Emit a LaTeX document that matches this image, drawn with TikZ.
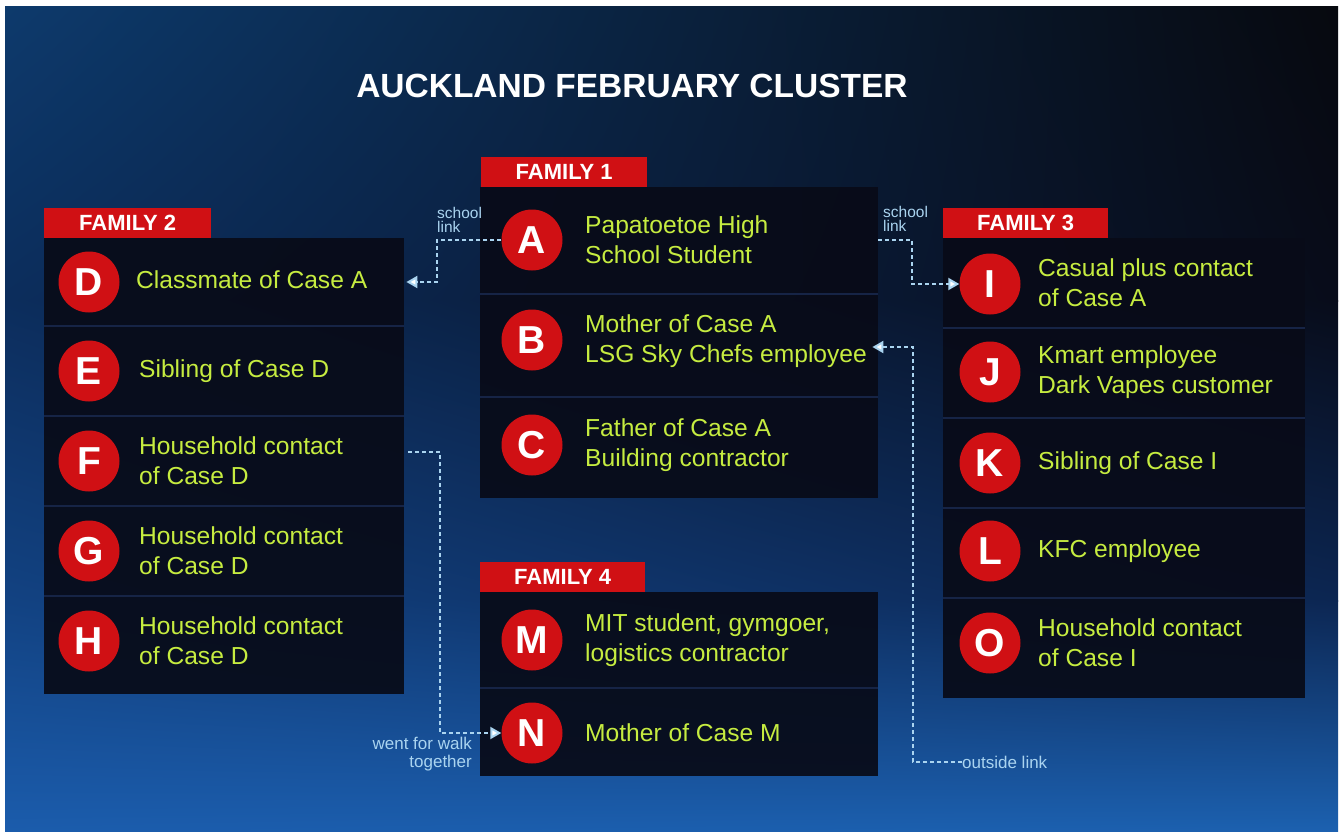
\documentclass[tikz,border=0pt]{standalone}
\usepackage{fontspec}
\setmainfont{Liberation Sans}
\usetikzlibrary{arrows.meta,calc,shadings}
\definecolor{lime}{RGB}{198,236,64}
\definecolor{cred}{RGB}{208,16,20}
\definecolor{panelc}{RGB}{8,11,24}
\definecolor{sepc}{RGB}{22,36,70}
\definecolor{linkc}{RGB}{170,212,240}
\definecolor{bgA}{RGB}{13,58,108}
\definecolor{bgB}{RGB}{7,9,15}
\definecolor{bgC}{RGB}{12,45,92}
\definecolor{bgD}{RGB}{8,12,26}
\definecolor{bgE}{RGB}{18,66,130}
\definecolor{bgF}{RGB}{12,38,82}
\definecolor{bgG}{RGB}{27,92,172}
\definecolor{bgH}{RGB}{28,97,176}
\begin{document}
\begin{tikzpicture}[x=1pt,y=-1pt,
  panel/.style={rectangle,fill=panelc,fill opacity=0.93,draw=none,inner sep=0pt,anchor=north west},
  sepline/.style={draw=sepc,line width=2pt},
  famlabel/.style={rectangle,fill=cred,text=white,inner sep=0pt,anchor=north west,
     minimum height=30pt,font=\bfseries\fontsize{22}{22}\selectfont},
  circ/.style={circle,fill=cred,minimum size=61pt,inner sep=0pt,text=white,
     font=\bfseries\fontsize{39}{39}\selectfont},
  txt/.style={text=lime,anchor=west,align=left,inner sep=0pt,
     font=\fontsize{24.6}{30}\selectfont},
  small/.style={text=linkc,inner sep=0pt,font=\fontsize{17}{18}\selectfont},
  smaller/.style={text=linkc,inner sep=0pt,font=\fontsize{15.5}{14}\selectfont},
  link/.style={draw=linkc,line width=2pt,dash pattern=on 4pt off 3pt},
  tip/.style={-{Triangle[length=11pt,width=12pt,fill=white]}},
]
\useasboundingbox (0,0) rectangle (1344,832);
\fill[white] (0,0) rectangle (1344,832);
% background gradient
\shade[upper left=bgA,upper right=bgB,lower left=bgC,lower right=bgD] (5,7) rectangle (1338,301);
\shade[upper left=bgC,upper right=bgD,lower left=bgE,lower right=bgF] (5,300) rectangle (1338,601);
\shade[upper left=bgE,upper right=bgF,lower left=bgG,lower right=bgH] (5,600) rectangle (1338,832);

% title
\node[text=white,font=\bfseries\fontsize{33.5}{33}\selectfont,inner sep=0pt] (title) at (632,86) {AUCKLAND FEBRUARY CLUSTER};

% panels
\node[panel,minimum width=398pt,minimum height=311pt] (p1) at (480,187) {};
\node[panel,minimum width=360pt,minimum height=456pt] (p2) at (44,238) {};
\node[panel,minimum width=362pt,minimum height=460pt] (p3) at (943,238) {};
\node[panel,minimum width=398pt,minimum height=184pt] (p4) at (480,592) {};

% row separators
\foreach \d in {107,210} \draw[sepline] ($(p1.north west)+(0,\d)$) -- ($(p1.north east)+(0,\d)$);
\foreach \d in {88,178,268,358} \draw[sepline] ($(p2.north west)+(0,\d)$) -- ($(p2.north east)+(0,\d)$);
\foreach \d in {90,180,270,360} \draw[sepline] ($(p3.north west)+(0,\d)$) -- ($(p3.north east)+(0,\d)$);
\draw[sepline] ($(p4.north west)+(0,96)$) -- ($(p4.north east)+(0,96)$);

% family labels
\node[famlabel,minimum width=166pt] (f1) at (481,157) {FAMILY 1};
\node[famlabel,minimum width=167pt] (f2) at (44,208) {FAMILY 2};
\node[famlabel,minimum width=165pt] (f3) at (943,208) {FAMILY 3};
\node[famlabel,minimum width=165pt] (f4) at (480,562) {FAMILY 4};

% family 1
\node[circ] (A) at (532,240) {A};
\node[circ] (B) at (532,340) {B};
\node[circ] (C) at (532,445) {C};
\node[txt] (tA) at (585,240) {Papatoetoe High\\School Student};
\node[txt] (tB) at (585,341) {Mother of Case A\\LSG Sky Chefs employee};
\node[txt] (tC) at (585,445) {Father of Case A\\Building contractor};

% family 2
\node[circ] (D) at (89,282) {D};
\node[circ] (E) at (89,371) {E};
\node[circ] (F) at (89,461) {F};
\node[circ] (G) at (89,551) {G};
\node[circ] (H) at (89,641) {H};
\node[txt] (tD) at (136,280) {Classmate of Case A};
\node[txt] (tE) at (139,371) {Sibling of Case D};
\node[txt] (tF) at (139,461) {Household contact\\of Case D};
\node[txt] (tG) at (139,551) {Household contact\\of Case D};
\node[txt] (tH) at (139,641) {Household contact\\of Case D};

% family 3
\node[circ] (I) at (990,284) {I};
\node[circ] (J) at (990,372) {J};
\node[circ] (K) at (990,463) {K};
\node[circ] (L) at (990,551) {L};
\node[circ] (O) at (990,643) {O};
\node[txt] (tI) at (1038,283) {Casual plus contact\\of Case A};
\node[txt] (tJ) at (1038,372) {Kmart employee\\Dark Vapes customer};
\node[txt] (tK) at (1038,463) {Sibling of Case I};
\node[txt] (tL) at (1038,551) {KFC employee};
\node[txt] (tO) at (1038,643) {Household contact\\of Case I};

% family 4
\node[circ] (M) at (532,640) {M};
\node[circ] (N) at (532,733) {N};
\node[txt] (tM) at (585,640) {MIT student, gymgoer,\\logistics contractor};
\node[txt] (tN) at (585,733) {Mother of Case M};

% link labels
\node[smaller,anchor=north west,align=left] (lA) at (437,207) {school\\link};
\node[smaller,anchor=north west,align=left] (lI) at (883,206) {school\\link};
\node[small,anchor=north east,align=right] (lW) at (472,737) {went for walk\\together};
\node[small,anchor=west] (lO) at (962,762) {outside link};

% connectors
\draw[link,tip] (A.west) -- ++(-64,0) |- ([xshift=2pt]p2.east |- D);
\draw[link,tip] (p1.east |- A) -- ++(34,0) |- (I.west);
\draw[link,tip] (lO.west) -- ++(-49,0) |- ([xshift=-6pt,yshift=-7pt]p1.east |- B);
\draw[link,tip] ([xshift=4pt,yshift=9pt]p2.east |- F) -- ++(32,0) |- (N.west);
\end{tikzpicture}
\end{document}
